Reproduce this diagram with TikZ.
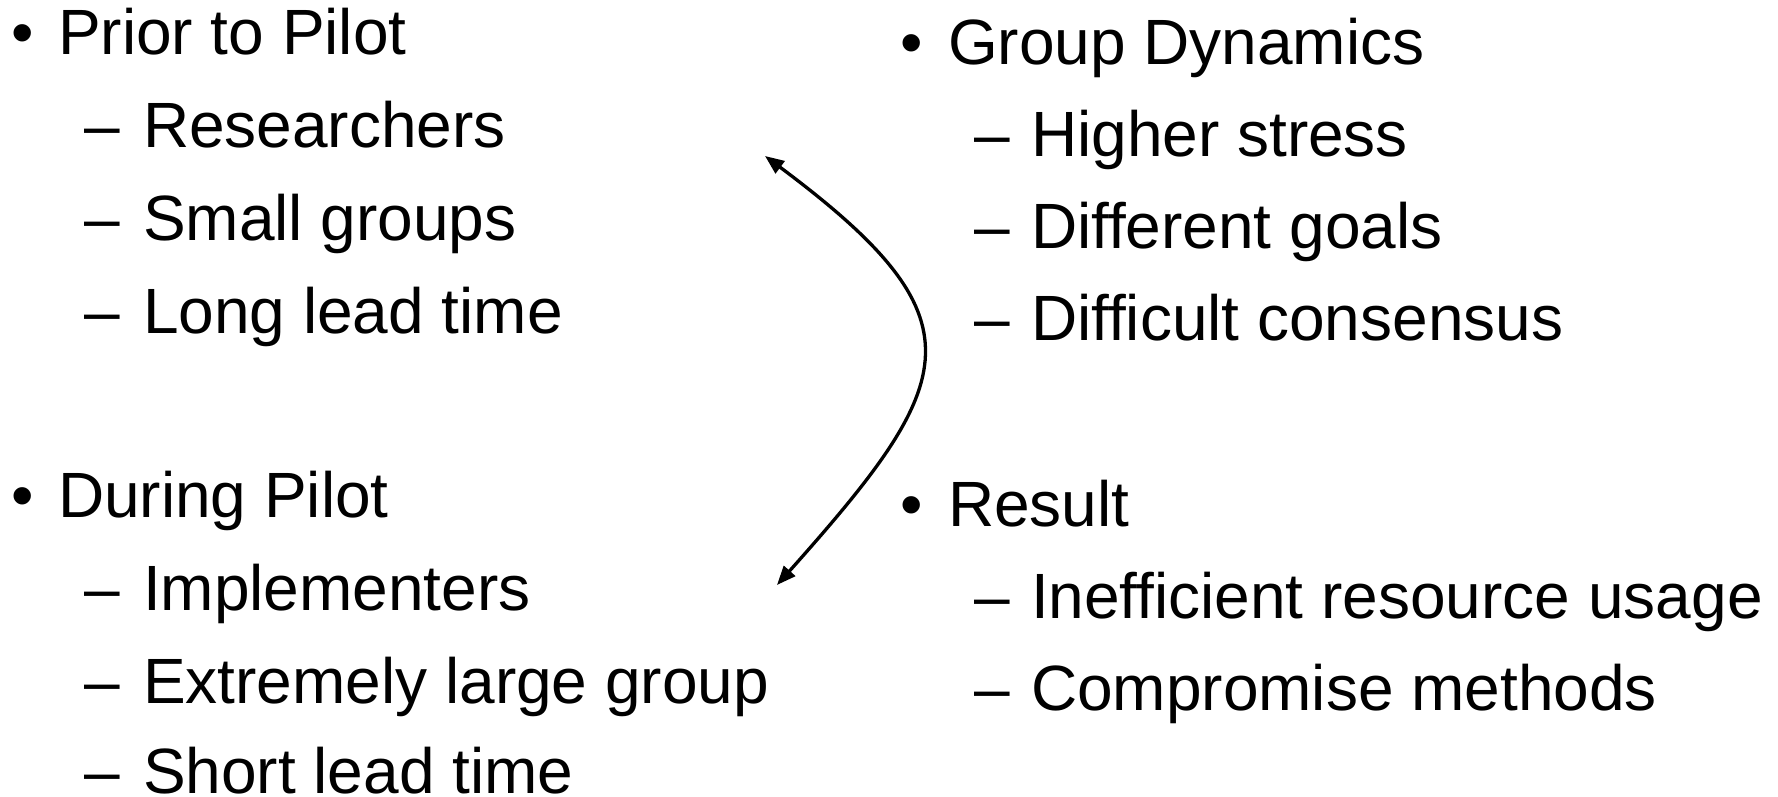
\documentclass[tikz,border=0pt]{standalone}
\usepackage{fontspec}
\setmainfont{Liberation Sans}
\usetikzlibrary{arrows.meta}
\begin{document}
\begin{tikzpicture}[x=1pt,y=-1pt,
  txt/.style={anchor=base west,inner sep=0pt,outer sep=0pt,font=\fontsize{64}{76}\selectfont},
  link/.style={line width=3.3pt,{Triangle[length=19pt,width=15pt]}-{Triangle[length=19pt,width=15pt]}}]
\useasboundingbox (0,0) rectangle (1778,797);
% left column
\node[txt] (b1) at (12,55) {•};
\node[txt] (t1) at (58,55) {Prior to Pilot};
\node[txt] (d11) at (84,148) {–};
\node[txt] (s11) at (143,148) {Researchers};
\node[txt] (d12) at (84,240) {–};
\node[txt] (s12) at (143,240) {Small groups};
\node[txt] (d13) at (84,333) {–};
\node[txt] (s13) at (143,333) {Long lead time};
\node[txt] (b2) at (12,517) {•};
\node[txt] (t2) at (58,517) {During Pilot};
\node[txt] (d21) at (84,610) {–};
\node[txt] (s21) at (143,610) {Implementers};
\node[txt] (d22) at (84,703) {–};
\node[txt] (s22) at (143,703) {Extremely large group};
\node[txt] (d23) at (84,793) {–};
\node[txt] (s23) at (143,793) {Short lead time};
% right column
\node[txt] (b3) at (900,65) {•};
\node[txt] (t3) at (948,65) {Group Dynamics};
\node[txt] (d31) at (974,157) {–};
\node[txt] (s31) at (1031,157) {Higher stress};
\node[txt] (d32) at (974,248) {–};
\node[txt] (s32) at (1031,248) {Different goals};
\node[txt] (d33) at (974,340) {–};
\node[txt] (s33) at (1031,340) {Difficult consensus};
\node[txt] (b4) at (900,526) {•};
\node[txt] (t4) at (948,526) {Result};
\node[txt] (d41) at (974,618) {–};
\node[txt] (s41) at (1031,618) {Inefficient resource usage};
\node[txt] (d42) at (974,710) {–};
\node[txt] (s42) at (1031,710) {Compromise methods};
% arrow
\coordinate (atop) at (765,156);
\coordinate (abot) at (777,585);
\draw[link] (atop) .. controls (985,320) and (960,380) .. (abot);
\end{tikzpicture}
\end{document}
